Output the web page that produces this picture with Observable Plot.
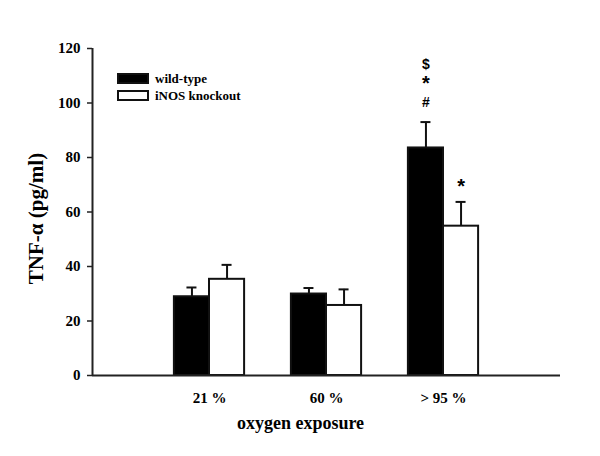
<!DOCTYPE html>
<html>
<head>
<meta charset="utf-8">
<script src="https://cdn.jsdelivr.net/npm/d3@7"></script>
<script src="https://cdn.jsdelivr.net/npm/@observablehq/plot@0.6"></script>
<style>
  html, body { margin: 0; padding: 0; background: #fff; }
  #wrap { position: relative; width: 600px; height: 456px; }
  #legend { position: absolute; left: 117px; top: 70px; font-family: "Liberation Serif", serif; font-weight: bold; font-size: 13px; color: #000; }
  .row { display: flex; align-items: center; height: 17px; }
  .sw { width: 28px; height: 7px; border: 2px solid #111; margin-right: 6px; }
</style>
</head>
<body>
<div id="wrap"><div id="legend"></div></div>
<script>
// ---- data ----
const groups = ["21 %", "60 %", "> 95 %"];
const series = ["wild-type", "iNOS knockout"];
const wildType = [28.9, 29.9, 83.5];
const wildTypeErr = [3.4, 2.2, 9.5];
const knockout = [35.3, 25.7, 54.8];
const knockoutErr = [5.3, 5.9, 8.9];
// significance symbols, listed from the bar upward
const wildTypeSig = [[], [], ["#", "*", "$"]];
const knockoutSig = [[], [], ["*"]];
const yTicks = [0, 20, 40, 60, 80, 100, 120];
const seriesColors = ["#000000", "#ffffff"];

// ---- build table ----
const barW = 0.3;
const rows = [];
groups.forEach((g, i) => {
  rows.push({group: g, series: series[0], pos: i + 1, side: -1, value: wildType[i], err: wildTypeErr[i], sig: wildTypeSig[i]});
  rows.push({group: g, series: series[1], pos: i + 1, side: 1, value: knockout[i], err: knockoutErr[i], sig: knockoutSig[i]});
});
rows.forEach(d => {
  d.x1 = d.side < 0 ? d.pos - barW : d.pos;
  d.x2 = d.side < 0 ? d.pos : d.pos + barW;
  d.cx = (d.x1 + d.x2) / 2;
  d.top = d.value + d.err;
});
const sigRows = rows.flatMap(d => d.sig.map((s, k) => ({cx: d.cx, top: d.top, symbol: s, level: k})));
const levelDy = [-20, -43, -58];
const starSize = 20, starShift = 5;

const sigMarks = levelDy.flatMap((dy, k) => [
  Plot.text(sigRows.filter(d => d.level === k && d.symbol !== "*"), {
    x: "cx", y: "top", text: "symbol", dy, fontFamily: "Liberation Sans", fontWeight: "bold", fontSize: 14
  }),
  Plot.text(sigRows.filter(d => d.level === k && d.symbol === "*"), {
    x: "cx", y: "top", text: "symbol", dy: dy + starShift, fontFamily: "Liberation Sans", fontWeight: "bold", fontSize: starSize
  })
]);

const marks = [
  Plot.rectY(rows, {x1: "x1", x2: "x2", y1: 0, y2: "value", fill: "series", stroke: "#111", strokeWidth: 2}),
  Plot.ruleX(rows, {x: "cx", y1: "value", y2: "top", stroke: "#111", strokeWidth: 2}),
  Plot.ruleY(rows, {y: "top", x1: "cx", x2: "cx", insetLeft: -5, insetRight: -5, stroke: "#111", strokeWidth: 2}),
  ...sigMarks,
  Plot.ruleX([0], {y1: 0, y2: 120, stroke: "#222", strokeWidth: 2}),
  Plot.ruleY([0], {x1: 0, x2: 4, stroke: "#222", strokeWidth: 2}),
  Plot.axisY({ticks: yTicks, tickSize: 5, tickPadding: 7, label: null, stroke: "#222", strokeWidth: 1.5}),
  Plot.axisX({ticks: [1, 2, 3], tickFormat: t => groups[t - 1], tickSize: 0, tickPadding: 17, label: null}),
  Plot.text(["TNF-α (pg/ml)"], {frameAnchor: "left", textAnchor: "middle", lineAnchor: "middle", rotate: -90, dx: -56, dy: 6.5, fontSize: 21}),
  Plot.text(["oxygen exposure"], {frameAnchor: "bottom", textAnchor: "middle", lineAnchor: "middle", dx: -26, dy: 48, fontSize: 18})
];

const chart = Plot.plot({
  width: 600,
  height: 456,
  marginLeft: 92,
  marginRight: 40,
  marginTop: 48,
  marginBottom: 81,
  x: {domain: [0, 4], axis: null},
  y: {domain: [0, 120], axis: null},
  color: {domain: series, range: seriesColors},
  style: {fontFamily: "Liberation Serif", fontWeight: "bold", fontSize: "15px", background: "#fff", color: "#000"},
  marks
});
document.getElementById("wrap").prepend(chart);

const legend = document.getElementById("legend");
series.forEach((s, i) => {
  const row = document.createElement("div");
  row.className = "row";
  const sw = document.createElement("div");
  sw.className = "sw";
  sw.style.background = seriesColors[i];
  const t = document.createElement("span");
  t.textContent = s;
  row.append(sw, t);
  legend.append(row);
});
</script>
</body>
</html>
